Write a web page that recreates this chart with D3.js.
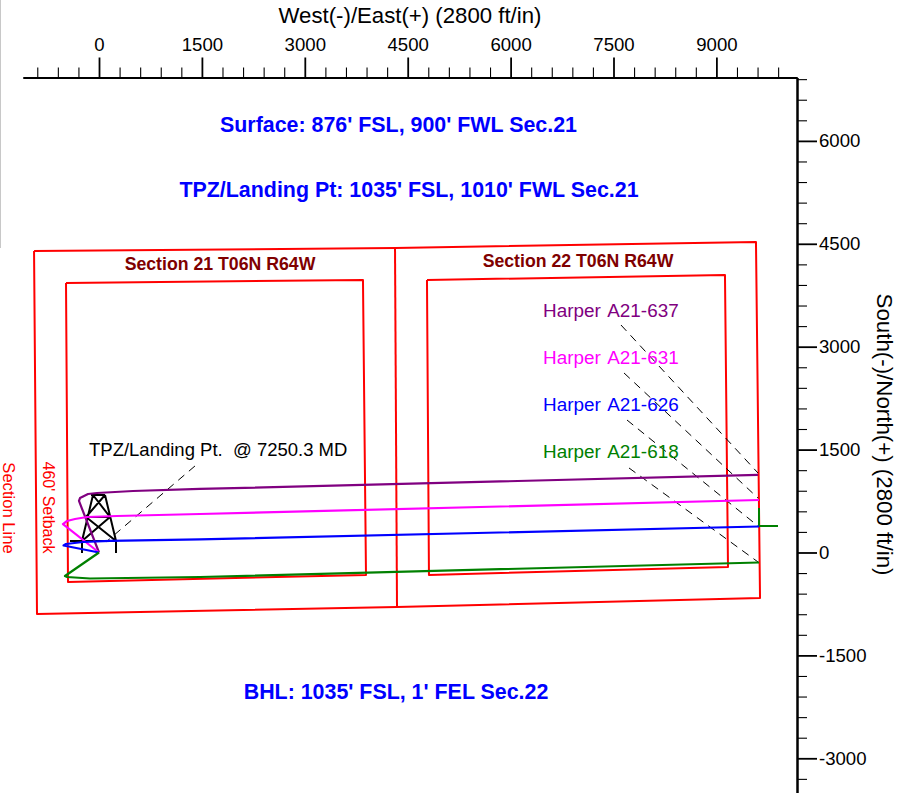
<!DOCTYPE html>
<html>
<head>
<meta charset="utf-8">
<script src="https://cdn.jsdelivr.net/npm/d3@7"></script>
<style>
html, body { margin: 0; padding: 0; background: #fff; }
svg { display: block; }
text { font-family: "Liberation Sans", Arial, sans-serif; white-space: pre; }
</style>
</head>
<body>
<script>
// all values in feet
var xMajor = [0, 1500, 3000, 4500, 6000, 7500, 9000];
var yMajor = [-3000, -1500, 0, 1500, 3000, 4500, 6000];
var xMinor = [-900, -600, -300, 300, 600, 900, 1200, 1800, 2100, 2400, 2700, 3300, 3600, 3900, 4200, 4800, 5100, 5400, 5700, 6300, 6600, 6900, 7200, 7800, 8100, 8400, 8700, 9300, 9600, 9900];
var yMinor = [-3300, -2700, -2400, -2100, -1800, -1200, -900, -600, -300, 300, 600, 900, 1200, 1800, 2100, 2400, 2700, 3300, 3600, 3900, 4200, 4800, 5100, 5400, 5700, 6300, 6600, 6900];

var sectionOuter = [[-947, 4395], [4315, 4439], [9577, 4526], [9636, -663], [4344, -794], [-904, -896], [-947, 4395]];
var sectionDivide = [[4315, 4439], [4344, -794]];
var setback21 = [[-481, 3929], [3848, 3972], [3892, -328], [-452, -430], [-481, 3929]];
var setback22 = [[4781, 3972], [9125, 4045], [9169, -211], [4810, -328], [4781, 3972]];

var well637 = [[0, 0], [-292, 751], [-277, 794], [-160, 853], [-29, 867], [496, 896], [1472, 926], [9606, 1130]];
var well631 = [[0, 0], [-525, 415], [-466, 459], [-350, 488], [-175, 517], [262, 532], [1472, 561], [9621, 765]];
var well626 = [[0, 0], [-517, 102], [-481, 124], [-233, 153], [160, 168], [1472, 190], [9621, 379]];
var well618 = [[0, 0], [-496, -343], [-466, -357], [-131, -379], [1472, -357], [9621, -146]];
var stub618 = [[9621, 649], [9621, 386], [9898, 386]];

var leaders = [
  [[7609, 3316], [9606, 1159]],
  [[7653, 2617], [9606, 794]],
  [[7697, 1931], [9606, 386]],
  [[7726, 1232], [9606, -138]],
  [[1399, 1261], [102, 153]]
];

var wellNames = ["Harper A21-637", "Harper A21-631", "Harper A21-626", "Harper A21-618"];
var wellColors = ["#800080", "#ff00ff", "#0000ff", "#008000"];

var width = 906, height = 793;

var xScale = d3.scaleLinear().domain([-1108, 10175]).range([23, 797]);
var yScale = d3.scaleLinear().domain([-3506, 6924]).range([793, 77.5]);

var svg = d3.select("body").append("svg")
  .attr("width", width)
  .attr("height", height);

// grey edge at top left of the page
svg.append("line")
  .attr("x1", 0.5).attr("x2", 0.5).attr("y1", 0).attr("y2", 248)
  .attr("stroke", "#c8c8c8");

var line = d3.line()
  .x(function(d) { return xScale(d[0]); })
  .y(function(d) { return yScale(d[1]); });

function drawPath(points, color, w) {
  return svg.append("path")
    .datum(points)
    .attr("fill", "none")
    .attr("stroke", color)
    .attr("stroke-width", w)
    .attr("stroke-linejoin", "round")
    .attr("d", line);
}

drawPath(sectionOuter, "#ff0000", 2);
drawPath(sectionDivide, "#ff0000", 2);
drawPath(setback21, "#ff0000", 2);
drawPath(setback22, "#ff0000", 2);

// rig symbol, offsets in px from the surface location
var sx = xScale(0), sy = yScale(0);
var rig = svg.append("g")
  .attr("transform", "translate(" + sx + "," + sy + ")")
  .attr("stroke", "#000")
  .attr("stroke-width", 2)
  .attr("fill", "none");
rig.append("path").attr("d",
  "M-8,-57.5H6" +
  "M-6,-57.5L-17,-11.5V0.5" +
  "M6,-57.5L17,-11.5V0.5" +
  "M-29,-11.5H18" +
  "M-13,-35.5H11" +
  "M-6,-57.5L11,-35.5" +
  "M6,-57.5L-13,-35.5" +
  "M-13,-35.5L17,-11.5" +
  "M11,-35.5L-17,-11.5");

leaders.forEach(function(l) {
  drawPath(l, "#000", 1).attr("stroke-dasharray", "8,6");
});

drawPath(stub618, "#008000", 2);
[well637, well631, well626, well618].forEach(function(w, i) {
  drawPath(w, wellColors[i], 2.2);
});

// axes
function styleAxis(g) {
  g.selectAll("path").attr("stroke", "#000").attr("stroke-width", 2);
  g.selectAll("line").attr("stroke", "#000").attr("stroke-width", 1.1);
  g.selectAll("text").attr("font-size", 18.6).attr("fill", "#000")
    .style("font-family", '"Liberation Sans", Arial, sans-serif');
}

// plain hyphen on the negative labels
var tickText = function(d) { return String(d); };

var topMajor = svg.append("g").attr("transform", "translate(0,77.5)")
  .call(d3.axisTop(xScale).tickValues(xMajor).tickSize(20).tickSizeOuter(0).tickPadding(7).tickFormat(tickText))
  .call(styleAxis);
topMajor.selectAll("line").attr("stroke-width", 1.8);
svg.append("g").attr("transform", "translate(0,77.5)")
  .call(d3.axisTop(xScale).tickValues(xMinor).tickSize(10).tickSizeOuter(0).tickFormat(""))
  .call(styleAxis);

var rightMajor = svg.append("g").attr("transform", "translate(797,0)")
  .call(d3.axisRight(yScale).tickValues(yMajor).tickSize(20).tickSizeOuter(0).tickPadding(2).tickFormat(tickText))
  .call(styleAxis);
rightMajor.selectAll("line").attr("stroke-width", 1.8);
svg.append("g").attr("transform", "translate(797,0)")
  .call(d3.axisRight(yScale).tickValues(yMinor).tickSize(10).tickSizeOuter(0).tickFormat(""))
  .call(styleAxis);

function label(txt, x, y, size, color, anchor, bold, rotate) {
  var t = svg.append("text")
    .attr("font-size", size)
    .attr("fill", color)
    .attr("text-anchor", anchor)
    .attr("font-weight", bold ? "bold" : "normal")
    .text(txt);
  if (rotate) t.attr("transform", "translate(" + x + "," + y + ") rotate(" + rotate + ")");
  else t.attr("x", x).attr("y", y);
  return t;
}

label("West(-)/East(+) (2800 ft/in)", 410, 23, 22.2, "#000", "middle");
label("South(-)/North(+) (2800 ft/in)", 877, 434.5, 22.3, "#000", "middle", false, 90);

label("Surface: 876' FSL, 900' FWL Sec.21", 398.5, 132, 21.4, "#0000ff", "middle", true);
label("TPZ/Landing Pt: 1035' FSL, 1010' FWL Sec.21", 409, 197, 21.4, "#0000ff", "middle", true);
label("BHL: 1035' FSL, 1' FEL Sec.22", 396, 699, 21.4, "#0000ff", "middle", true);

label("Section 21 T06N R64W", 220, 270, 17.7, "#7f0000", "middle", true);
label("Section 22 T06N R64W", 578, 267, 17.7, "#7f0000", "middle", true);

wellNames.forEach(function(n, i) {
  label(n, 543, [317, 364, 411, 458][i], 18.9, wellColors[i], "start")
    .attr("word-spacing", 2.3);
});

label("TPZ/Landing Pt.  @ 7250.3 MD", 89, 456, 18.5, "#000", "start");
label("Section Line", 3, 508, 16.6, "#ff0000", "middle", false, 90);
label("460' Setback", 43, 507.5, 16, "#ff0000", "middle", false, 90);
</script>
</body>
</html>
